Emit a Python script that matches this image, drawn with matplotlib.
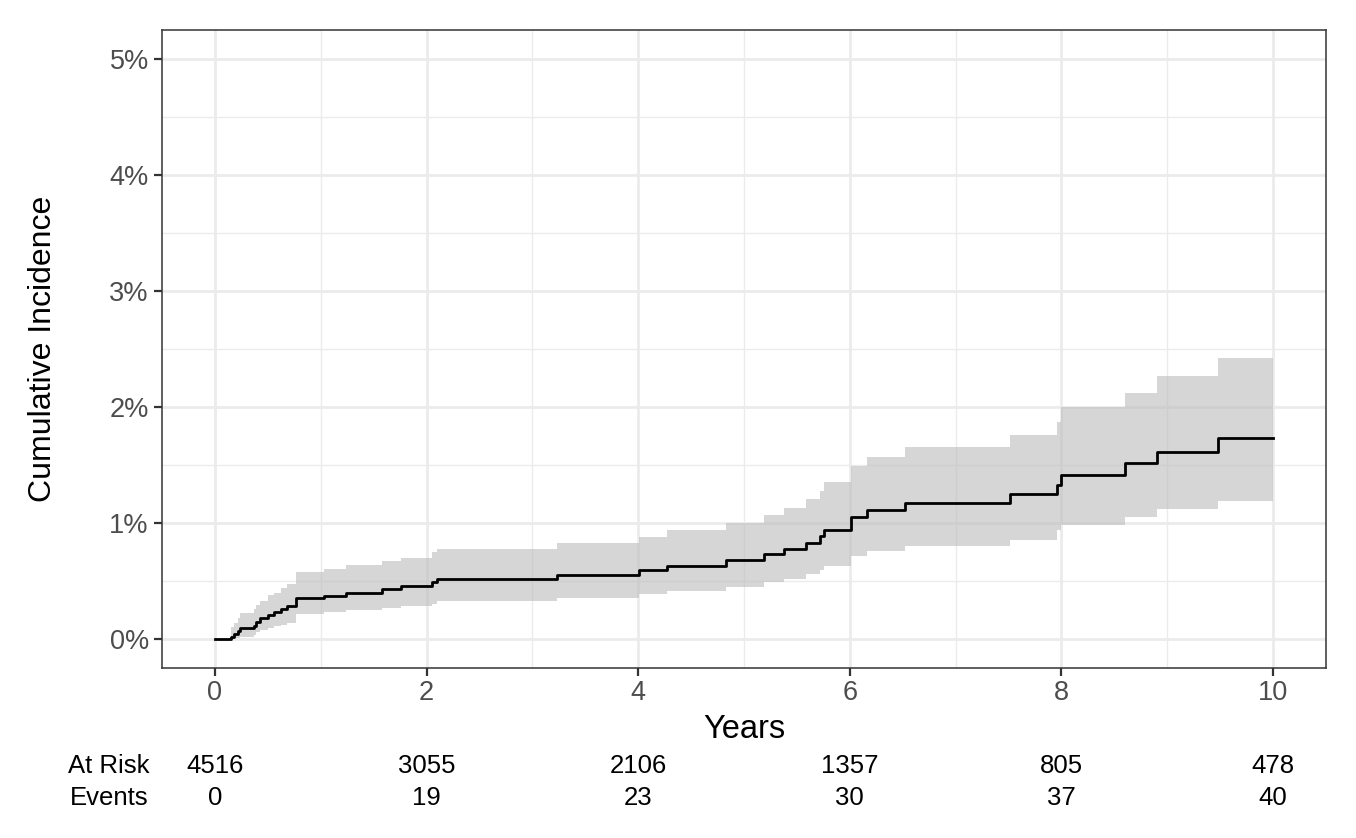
import matplotlib
matplotlib.use('Agg')
import matplotlib.pyplot as plt
import matplotlib.transforms as mtransforms
from matplotlib.ticker import MultipleLocator, FuncFormatter

plt.rcParams['font.family'] = ['Liberation Sans', 'DejaVu Sans']

# step times (years) and cumulative incidence (%)
times = [0, 0.15, 0.18, 0.22, 0.24, 0.37, 0.385, 0.43, 0.50, 0.56, 0.62, 0.68, 0.765,
         1.03, 1.24, 1.58, 1.76, 2.05, 2.10, 3.23, 4.01, 4.27, 4.83, 5.19, 5.38,
         5.59, 5.72, 5.76, 6.015, 6.16, 6.52, 7.51, 7.96, 8.00, 8.60, 8.90, 9.48, 10.0]
estimate = [0, 0.02, 0.043, 0.069, 0.092, 0.115, 0.144, 0.178, 0.207, 0.23, 0.256, 0.284, 0.353,
            0.373, 0.40, 0.43, 0.46, 0.49, 0.517, 0.55, 0.595, 0.63, 0.68, 0.733, 0.78,
            0.83, 0.888, 0.94, 1.054, 1.11, 1.17, 1.247, 1.327, 1.416, 1.515, 1.615, 1.73, 1.73]
lower = [0, 0.0, 0.005, 0.01, 0.02, 0.035, 0.06, 0.08, 0.095, 0.11, 0.125, 0.14, 0.215,
         0.235, 0.25, 0.27, 0.285, 0.30, 0.33, 0.356, 0.388, 0.416, 0.45, 0.49, 0.517,
         0.56, 0.595, 0.63, 0.718, 0.76, 0.804, 0.853, 0.94, 0.98, 1.05, 1.118, 1.19, 1.19]
upper = [0, 0.10, 0.14, 0.18, 0.22, 0.26, 0.29, 0.33, 0.38, 0.40, 0.44, 0.47, 0.575,
         0.60, 0.64, 0.675, 0.70, 0.75, 0.78, 0.825, 0.88, 0.94, 0.997, 1.069, 1.127,
         1.207, 1.28, 1.35, 1.494, 1.566, 1.653, 1.759, 1.868, 1.997, 2.12, 2.27, 2.425, 2.425]

# risk table
table_years = [0, 2, 4, 6, 8, 10]
at_risk = [4516, 3055, 2106, 1357, 805, 478]
events = [0, 19, 23, 30, 37, 40]

fig = plt.figure(figsize=(13.56, 8.38), dpi=100)
ax = fig.add_axes([162 / 1356, 1 - 668 / 838, (1326 - 162) / 1356, (668 - 30) / 838])

ax.fill_between(times, lower, upper, step='post', facecolor='#bebebe', alpha=0.63,
                linewidth=0, zorder=1)
ax.step(times, estimate, where='post', color='black', lw=2.0, zorder=2)

ax.set_xlim(-0.5, 10.5)
ax.set_ylim(-0.25, 5.25)
ax.xaxis.set_major_locator(MultipleLocator(2))
ax.xaxis.set_minor_locator(MultipleLocator(1))
ax.yaxis.set_major_locator(MultipleLocator(1))
ax.yaxis.set_minor_locator(MultipleLocator(0.5))
ax.yaxis.set_major_formatter(FuncFormatter(lambda v, p: '%d%%' % round(v)))

ax.set_axisbelow(True)
ax.grid(which='major', color='#ebebeb', lw=2.0)
ax.grid(which='minor', color='#ebebeb', lw=1.0)
for s in ax.spines.values():
    s.set_color('#333333')
    s.set_linewidth(1.1)

ax.tick_params(which='major', length=5.5, width=1.6, color='#333333',
               labelcolor='#4d4d4d', labelsize=19.5)
ax.tick_params(axis='x', pad=3)
ax.tick_params(axis='y', pad=4)
ax.tick_params(which='minor', length=0)

ax.set_xlabel('Years', fontsize=23.5, labelpad=6)
ax.set_ylabel('Cumulative Incidence', fontsize=23, labelpad=37)

# risk table under the axis
trans = mtransforms.blended_transform_factory(ax.transData, fig.transFigure)
y_risk = 1 - 766 / 838
y_events = 1 - 798 / 838
fig.text(149 / 1356, y_risk, 'At Risk', ha='right', va='center', fontsize=18.5)
fig.text(149 / 1356, y_events, 'Events', ha='right', va='center', fontsize=18.5)
for yr, n, e in zip(table_years, at_risk, events):
    ax.text(yr, y_risk, str(n), transform=trans, ha='center', va='center',
            fontsize=18.5, clip_on=False)
    ax.text(yr, y_events, str(e), transform=trans, ha='center', va='center',
            fontsize=18.5, clip_on=False)

plt.savefig('out.png', dpi=100)
